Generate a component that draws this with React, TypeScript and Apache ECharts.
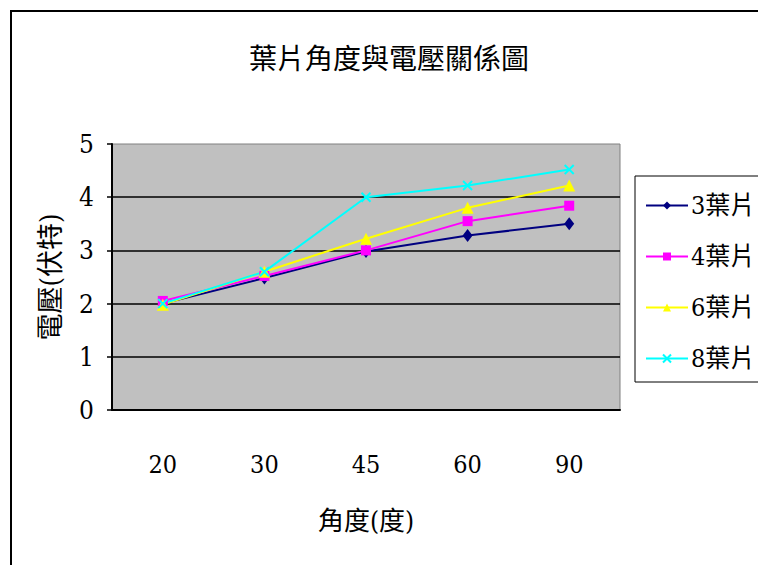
import React, { useEffect, useRef } from "react";
import * as echarts from "echarts";

// Blade angle (degrees) vs. generated voltage (volts)
const angles = ["20", "30", "45", "60", "90"];
const blades3 = [2.0, 2.48, 2.98, 3.28, 3.5];
const blades4 = [2.05, 2.52, 3.0, 3.55, 3.84];
const blades6 = [1.98, 2.6, 3.22, 3.8, 4.22];
const blades8 = [2.0, 2.6, 4.0, 4.22, 4.52];
const seriesNames = ["3葉片", "4葉片", "6葉片", "8葉片"];

const FONT = "DejaVu Serif Condensed, DejaVu Serif, Noto Sans CJK TC, serif";
const CROSS = "path://M0,0L10,10M10,0L0,10";

export default function App() {
  const ref = useRef<HTMLDivElement>(null);

  useEffect(() => {
    document.body.style.margin = "0";
    const chart = echarts.init(ref.current!, null, { renderer: "svg" });

    const mk = (name: string, data: number[], color: string, symbol: string, size: number | number[], stroke = false) => ({
      name,
      type: "line",
      data,
      symbol,
      symbolSize: size,
      showSymbol: true,
      lineStyle: { color, width: 2 },
      itemStyle: stroke
        ? { color: "rgba(0,0,0,0)", borderColor: color, borderWidth: 2 }
        : { color, borderWidth: 0 },
      emphasis: { disabled: true },
    });

    const txt = (size: number) => ({ fontFamily: FONT, fontSize: size, fontWeight: "normal", color: "#000" });

    chart.setOption({
      animation: false,
      backgroundColor: "#ffffff",
      textStyle: { fontFamily: FONT },
      title: {
        text: "葉片角度與電壓關係圖",
        left: 384,
        textAlign: "center",
        top: 40,
        textStyle: txt(28),
      },
      graphic: [
        {
          type: "rect",
          shape: { x: 11, y: 11, width: 800, height: 600 },
          style: { fill: "none", stroke: "#000", lineWidth: 2 },
          silent: true,
          z: -10,
        },
      ],
      legend: {
        orient: "vertical",
        left: 635,
        top: 176,
        padding: [17, 30, 11, 10],
        itemGap: 26,
        itemWidth: 42,
        itemHeight: 10,
        backgroundColor: "#fff",
        borderColor: "#000",
        borderWidth: 1,
        data: seriesNames,
        textStyle: { ...txt(25), lineHeight: 24, padding: [0, 0, 0, -2] },
      },
      grid: {
        left: 112,
        top: 144,
        width: 508,
        height: 266,
        show: true,
        backgroundColor: "#c0c0c0",
        borderColor: "#808080",
        borderWidth: 1,
      },
      xAxis: {
        type: "category",
        data: angles,
        boundaryGap: true,
        name: "角度(度)",
        nameLocation: "middle",
        nameGap: 98,
        nameTextStyle: txt(26),
        axisLine: { lineStyle: { color: "#000", width: 2 } },
        axisTick: { inside: true, length: 8, lineStyle: { color: "#000", width: 1.5 } },
        axisLabel: { margin: 42, ...txt(25) },
        splitLine: { show: false },
      },
      yAxis: {
        type: "value",
        min: 0,
        max: 5,
        interval: 1,
        name: "電壓(伏特)",
        nameLocation: "middle",
        nameRotate: 90,
        nameGap: 48,
        nameTextStyle: txt(27),
        axisLine: { show: true, lineStyle: { color: "#000", width: 2 } },
        axisTick: { show: true, length: 5, lineStyle: { color: "#000", width: 1.5 } },
        axisLabel: { margin: 18, ...txt(26) },
        splitLine: { show: true, showMaxLine: false, showMinLine: false, lineStyle: { color: "#000", width: 1.5 } },
      },
      series: [
        mk(seriesNames[0], blades3, "#000080", "diamond", [10, 13]),
        mk(seriesNames[1], blades4, "#ff00ff", "rect", 10),
        mk(seriesNames[2], blades6, "#ffff00", "triangle", 12),
        mk(seriesNames[3], blades8, "#00ffff", CROSS, 9, true),
      ],
    });

    return () => chart.dispose();
  }, []);

  return <div ref={ref} style={{ width: 758, height: 565 }} />;
}
